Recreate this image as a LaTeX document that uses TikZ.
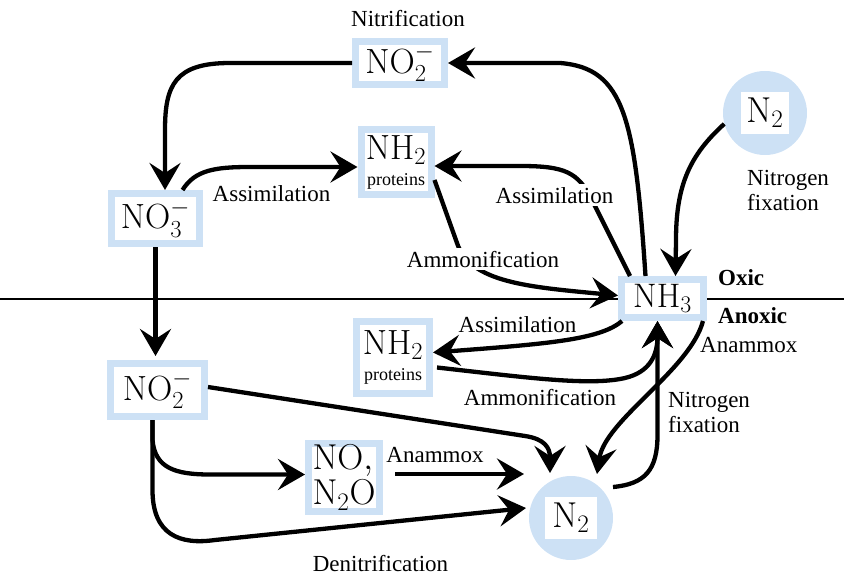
\RequirePackage{fix-cm}
\documentclass[tikz,border=0pt]{standalone}
\usepackage[no-math]{fontspec}
\setmainfont{Liberation Serif}
\usetikzlibrary{arrows.meta,calc}
\definecolor{boxblue}{RGB}{205,225,245}
\setlength{\fboxsep}{3pt}
\begin{document}
\begin{tikzpicture}[x=1pt,y=-1pt,
  chem/.style={draw=boxblue, line width=7pt, fill=white, inner sep=0pt, font=\fontsize{35}{36}\selectfont},
  ring/.style={circle, fill=boxblue, minimum size=84pt, inner sep=0pt, font=\fontsize{36}{37}\selectfont},
  lbl/.style={font=\fontsize{23}{25}\selectfont, inner sep=0pt},
  cut/.style={lbl, fill=white, inner sep=3pt},
  zone/.style={font=\bfseries\fontsize{23}{25}\selectfont, inner sep=0pt, anchor=base west},
  arr/.style={line width=4.3pt, -{Stealth[length=27pt,width=31pt,inset=10pt]}}
]
\useasboundingbox (0,0) rectangle (844,578);
\coordinate (hl) at (0,299);
\coordinate (hr) at (844,299);
\draw[line width=1.3pt] (hl) -- (hr);

% species
\node[chem, minimum width=89pt, minimum height=43pt] (no2t) at (400,63) {$\mathrm{NO}_2^-$};
\node[chem, minimum width=70pt, minimum height=65pt, align=center] (nh2t) at (396,162) {$\mathrm{NH}_2$\\[-10pt]\fontsize{18}{19}\selectfont proteins};
\node[chem, minimum width=88pt, minimum height=50pt] (no3) at (155.5,218.5) {$\mathrm{NO}_3^-$};
\node[chem, minimum width=82pt, minimum height=38pt, font=\fontsize{34}{35}\selectfont] (nh3) at (662.5,298.5) {$\mathrm{NH}_3$};
\node[chem, minimum width=73pt, minimum height=72pt, align=center] (nh2b) at (393,357.5) {$\mathrm{NH}_2$\\[-10pt]\fontsize{18}{19}\selectfont proteins};
\node[chem, minimum width=94pt, minimum height=53pt] (no2b) at (157.5,390) {$\mathrm{NO}_2^-$};
\node[chem, minimum width=71pt, minimum height=68pt, align=left, font=\fontsize{36}{35}\selectfont] (nob) at (344,477.5) {$\mathrm{NO,}$\\$\mathrm{N_2O}$};
\node[ring] (n2t) at (765,113) {\colorbox{white}{\makebox[42pt]{\rule[-9pt]{0pt}{36pt}$\mathrm{N}_2$}}};
\node[ring] (n2b) at (571,518) {\colorbox{white}{\makebox[46pt]{\rule[-9pt]{0pt}{36pt}$\mathrm{N}_2$}}};

% connectors
\draw[arr] ($(nh3.north)+(-17,0)$) .. controls (635,120) and (625,68) .. (560,63) -- (no2t.east);
\draw[arr] (no2t.west) -- (230,63) .. controls (175,63) and (165,85) .. (165,130) -- ($(no3.north)+(9.5,0)$);
\draw[arr] ($(no3.north)+(27,0)$) .. controls (195,170) and (215,167) .. (250,167) -- ($(nh2t.west)+(0,5)$);
\draw[arr] ($(nh3.north west)+(12,0)$) -- (592,200) .. controls (578,172) and (565,166) .. (520,166) -- ($(nh2t.east)+(0,4)$);
\draw[arr] ($(nh2t.east)+(0,18)$) -- (457,243) .. controls (470,283) and (530,287) .. ($(nh3.west)+(0,-3)$);
\draw[arr] (n2t.195) .. controls (690,155) and (676,185) .. (676,240) -- ($(nh3.north)+(13,0)$);
\draw[arr] ($(nh3.south west)+(4,0)$) .. controls (600,340) and (545,344) .. ($(nh2b.east)+(0,-5)$);
\draw[arr] ($(nh2b.east)+(4,10)$) .. controls (530,378) and (590,386) .. (625,378) .. controls (650,372) and (657.5,355) .. ($(nh3.south)+(-5,0)$);
\draw[arr] ($(n2b.center)+(42,-31)$) .. controls (645,484) and (657.5,470) .. (657.5,435) -- ($(nh3.south)+(-5,0)$);
\draw[arr] ($(nh3.south east)+(-4,0)$) .. controls (690,370) and (605,420) .. ($(n2b.center)+(26,-44)$);
\draw[arr] ($(no2b.east)+(0,-3)$) -- (525,436) .. controls (545,439) and (550,448) .. ($(n2b.center)+(-21,-45)$);
\draw[arr] ($(no2b.south)+(-5,0)$) -- (152.5,440) .. controls (155,468) and (175,474.5) .. (210,474.5) -- ($(nob.west)+(0,-3)$);
\draw[arr] ($(no2b.south)+(-5,0)$) -- (152.5,490) .. controls (152.5,535) and (180,545) .. (215,540) -- ($(n2b.center)+(-45,-10)$);
\draw[arr] ($(nob.east)+(12,-3.5)$) -- ($(n2b.center)+(-47,-44)$);
\draw[arr] (no3.south) -- ($(no3.south |- no2b.north)+(0,-4)$);

% labels
\node[lbl, anchor=base] (lnit) at (408,27) {Nitrification};
\node[lbl, anchor=base] (las1) at (271.5,201) {Assimilation};
\node[cut, anchor=base] (las2) at (554.5,203) {Assimilation};
\node[cut, anchor=base] (lam1) at (483,267) {Ammonification};
\node[zone] (loxic) at (718,285) {Oxic};
\node[zone] (lanoxic) at (718,323) {Anoxic};
\node[lbl, anchor=base west] (lanam1) at (700,352) {Anammox};
\node[lbl, anchor=base] (las3) at (517.5,332) {Assimilation};
\node[lbl, anchor=base] (lam2) at (540,405) {Ammonification};
\node[lbl, anchor=west, align=left] (lnf2) at (668,412) {Nitrogen\\fixation};
\node[lbl, anchor=base] (lanam2) at (435,462) {Anammox};
\node[lbl, anchor=base] (lden) at (380.5,571) {Denitrification};
\node[lbl, anchor=west, align=left] (lnf1) at (747,190) {Nitrogen\\fixation};
\end{tikzpicture}
\end{document}
